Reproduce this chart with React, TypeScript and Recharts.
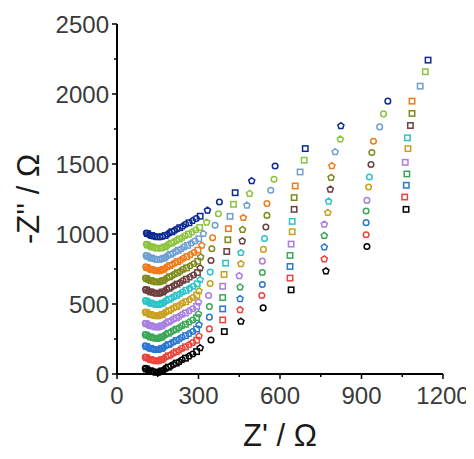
import React from "react";
import { ScatterChart, Scatter, XAxis, YAxis, Label } from "recharts";

// Nyquist plots, one per curve, stacked upward (bottom = black, top = navy)
const black = [[104,40],[108,36],[113,31],[118,26],[124,22],[130,18],[137,15],[144,13],[151,12],[158,15],[165,22],[172,31],[180,40],[189,49],[198,58],[208,68],[218,78],[229,89],[240,102],[252,113],[265,128],[279,143],[293,160],[306,186],[346,243],[395,303],[456,375],[538,472],[641,601],[769,735],[920,911],[1064,1176]];
const red = [[104,121],[108,117],[113,112],[118,107],[124,103],[130,99],[137,96],[144,94],[151,93],[158,96],[165,103],[172,112],[180,121],[189,130],[198,139],[208,149],[218,159],[229,170],[240,183],[252,194],[265,209],[279,224],[293,241],[302,270],[340,322],[389,386],[453,458],[533,561],[637,685],[763,821],[917,995],[1059,1264]];
const blue = [[104,201],[108,197],[113,192],[118,187],[124,183],[130,179],[137,176],[144,174],[151,173],[158,176],[165,183],[172,192],[180,201],[189,210],[198,219],[208,229],[218,239],[229,250],[240,263],[252,274],[265,289],[279,304],[293,321],[302,351],[340,406],[389,465],[453,537],[535,639],[637,768],[763,906],[917,1081],[1065,1348]];
const green = [[104,282],[108,278],[113,273],[118,268],[124,264],[130,260],[137,257],[144,255],[151,254],[158,257],[165,264],[172,273],[180,282],[189,291],[198,300],[208,310],[218,320],[229,331],[240,344],[252,355],[265,370],[279,385],[293,402],[300,429],[340,482],[389,546],[453,620],[535,725],[637,847],[763,988],[917,1164],[1067,1429]];
const purple = [[104,363],[108,359],[113,354],[118,349],[124,345],[130,341],[137,338],[144,336],[151,335],[158,338],[165,345],[172,354],[180,363],[189,372],[198,381],[208,391],[218,401],[229,412],[240,425],[252,436],[265,451],[279,466],[293,483],[300,513],[337,561],[389,627],[450,701],[535,806],[641,928],[763,1069],[920,1240],[1061,1512]];
const gold = [[104,443],[108,439],[113,434],[118,429],[124,425],[130,421],[137,418],[144,416],[152,415],[159,418],[166,425],[173,434],[181,443],[190,452],[199,461],[209,471],[219,481],[230,492],[241,505],[253,516],[266,531],[280,546],[294,563],[302,592],[343,646],[394,711],[456,787],[539,890],[645,1016],[776,1152],[926,1336],[1071,1610]];
const cyan = [[105,524],[109,520],[114,515],[119,510],[125,506],[131,502],[138,499],[145,497],[153,496],[160,499],[167,506],[174,515],[182,524],[191,533],[200,542],[210,552],[220,562],[231,573],[242,586],[254,597],[267,612],[281,627],[295,644],[306,673],[343,728],[400,792],[456,866],[543,968],[645,1090],[779,1233],[929,1407],[1069,1687]];
const brown = [[105,604],[109,600],[114,595],[119,590],[125,586],[131,582],[138,579],[145,577],[154,576],[161,579],[168,586],[175,595],[183,604],[192,613],[201,622],[211,632],[221,642],[232,653],[243,666],[255,677],[268,692],[282,707],[296,724],[306,756],[346,811],[404,875],[461,949],[548,1050],[652,1176],[785,1319],[935,1496],[1080,1775]];
const olive = [[105,685],[109,681],[114,676],[119,671],[125,667],[131,663],[138,660],[145,658],[155,657],[162,660],[169,667],[176,676],[184,685],[193,694],[202,703],[212,713],[222,723],[233,734],[244,747],[256,758],[269,773],[283,788],[297,805],[308,835],[349,895],[408,959],[462,1031],[552,1133],[652,1260],[788,1403],[938,1582],[1086,1861]];
const orange = [[106,765],[110,761],[115,756],[120,751],[126,747],[132,743],[139,740],[146,738],[156,737],[163,740],[170,747],[177,756],[185,765],[194,774],[203,783],[213,793],[223,803],[234,814],[245,827],[257,838],[270,853],[284,868],[298,885],[312,918],[352,973],[410,1038],[465,1116],[552,1217],[656,1343],[791,1486],[944,1663],[1086,1949]];
const lightBlue = [[107,846],[111,842],[116,837],[121,832],[127,828],[133,824],[140,821],[147,819],[159,818],[166,821],[173,828],[180,837],[188,846],[197,855],[206,864],[216,874],[226,884],[237,895],[248,908],[260,919],[273,934],[287,949],[301,966],[318,1002],[361,1062],[416,1126],[478,1205],[566,1312],[674,1443],[803,1586],[967,1765],[1116,2056]];
const lightGreen = [[108,926],[112,922],[117,917],[122,912],[128,908],[134,904],[141,901],[148,899],[160,898],[168,901],[176,908],[183,917],[191,926],[200,935],[209,944],[219,954],[229,964],[240,975],[251,988],[263,999],[276,1014],[290,1029],[304,1046],[330,1083],[373,1145],[429,1212],[488,1288],[578,1391],[689,1527],[822,1677],[981,1858],[1135,2159]];
const navy = [[108,1007],[112,1003],[117,998],[122,993],[128,989],[134,985],[141,982],[148,980],[158,979],[168,982],[177,989],[185,998],[193,1007],[202,1016],[211,1025],[221,1035],[231,1045],[242,1056],[253,1069],[265,1080],[278,1095],[292,1110],[306,1127],[333,1169],[377,1229],[435,1295],[496,1379],[582,1486],[693,1610],[824,1772],[997,1949],[1145,2242]];

const curves = [black, red, blue, green, purple, gold, cyan, brown, olive, orange, lightBlue, lightGreen, navy];
const colors = ["#000000", "#e8453c", "#2a78d2", "#3ba757", "#a97fe0", "#c9a020", "#2cc3c9", "#6e3f3f", "#7f8a1c", "#f07a18", "#6f9fd2", "#8cc43e", "#0d2a92"];

const xTicks = [0, 150, 300, 450, 600, 750, 900, 1050, 1200];
const yTicks = [0, 250, 500, 750, 1000, 1250, 1500, 1750, 2000, 2250, 2500];

const FONT = "'Liberation Sans', Arial, sans-serif";

const XTick = (props: any) => {
  const { x, y, payload } = props;
  const major = payload.value % 300 === 0;
  return (
    <g>
      <line x1={x} x2={x} y1={y} y2={y + (major ? 5 : 3)} stroke="#000" strokeWidth={1.5} />
      {major && (
        <text x={x} y={y + 13} dy="0.71em" textAnchor="middle" fontSize={24} fill="#3a3a3a" fontFamily={FONT}>
          {payload.value}
        </text>
      )}
    </g>
  );
};

const YTick = (props: any) => {
  const { x, y, payload } = props;
  const major = payload.value % 500 === 0;
  return (
    <g>
      <line x1={x} x2={x - (major ? 5 : 3)} y1={y} y2={y} stroke="#000" strokeWidth={1.5} />
      {major && (
        <text x={x - 8} y={y} dy="0.355em" textAnchor="end" fontSize={24} fill="#3a3a3a" fontFamily={FONT}>
          {payload.value}
        </text>
      )}
    </g>
  );
};

const marker = (color: string) => (p: any) => {
  const { cx, cy, payload } = p;
  const k = payload.k % 3;
  const sw = 1.5;
  if (k === 0) return <circle cx={cx} cy={cy} r={2.8} fill="none" stroke={color} strokeWidth={sw} />;
  if (k === 1) return <rect x={cx - 2.7} y={cy - 2.7} width={5.4} height={5.4} fill="none" stroke={color} strokeWidth={sw} />;
  const pts = [0, 1, 2, 3, 4]
    .map((i) => {
      const a = -Math.PI / 2 + (i * 2 * Math.PI) / 5;
      return `${cx + 3.2 * Math.cos(a)},${cy + 3.2 * Math.sin(a)}`;
    })
    .join(" ");
  return <polygon points={pts} fill="none" stroke={color} strokeWidth={sw} />;
};

export default function App() {
  return (
    <ScatterChart width={466} height={451} margin={{ top: 16, right: 31, bottom: 0, left: 0 }}>
      <XAxis
        type="number" dataKey="x" domain={[0, 1200]} ticks={xTicks} height={85}
        tickSize={0} tickMargin={0} tickLine={false} tick={<XTick />} interval={0}
        axisLine={{ stroke: "#000", strokeWidth: 2 }}
      >
        <Label
          content={(p: any) => {
            const vb = p.viewBox;
            return (
              <text x={vb.x + vb.width / 2} y={vb.y + 72} textAnchor="middle" fontSize={31} fill="#1a1a1a" fontFamily={FONT}>
                Z' / Ω
              </text>
            );
          }}
        />
      </XAxis>
      <YAxis
        type="number" dataKey="y" domain={[0, 2500]} ticks={yTicks} width={109}
        tickSize={0} tickMargin={0} tickLine={false} tick={<YTick />} interval={0}
        axisLine={{ stroke: "#000", strokeWidth: 2 }}
      >
        <Label
          content={(p: any) => {
            const vb = p.viewBox;
            const cx = vb.x + 31;
            const cy = vb.y + vb.height / 2;
            return (
              <text x={cx} y={cy} transform={`rotate(-90, ${cx}, ${cy})`} textAnchor="middle" fontSize={31} fill="#1a1a1a" fontFamily={FONT}>
                -Z'' / Ω
              </text>
            );
          }}
        />
      </YAxis>
      <XAxis xAxisId="top" orientation="top" type="number" domain={[0, 1200]} height={0} tick={false} tickLine={false} axisLine={{ stroke: "#000", strokeWidth: 2 }} />
      <YAxis yAxisId="right" orientation="right" type="number" domain={[0, 2500]} width={0} tick={false} tickLine={false} axisLine={{ stroke: "#000", strokeWidth: 2 }} />
      {curves.map((c, i) => (
        <Scatter
          key={i}
          data={c.map(([x, y], k) => ({ x, y, k }))}
          fill="none"
          stroke={colors[i]}
          shape={marker(colors[i])}
          isAnimationActive={false}
        />
      ))}
    </ScatterChart>
  );
}
